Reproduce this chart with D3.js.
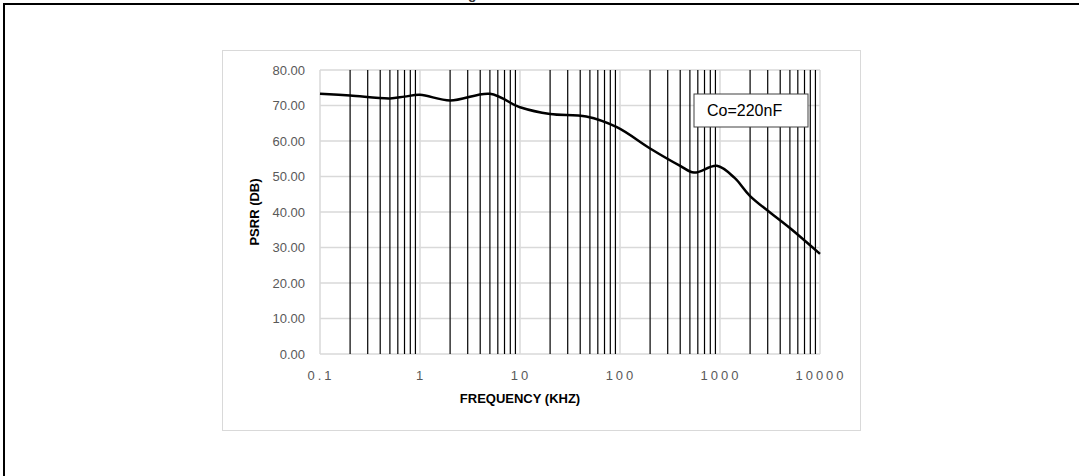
<!DOCTYPE html>
<html>
<head>
<meta charset="utf-8">
<script src="https://cdn.jsdelivr.net/npm/d3@7"></script>
<style>
  body { margin: 0; background: #fff; }
  svg { display: block; font-family: "Liberation Sans", Arial, sans-serif; }
</style>
</head>
<body>
<div id="chart"></div>
<script>
// curve (frequency in kHz, PSRR in dB)
let freq = [0.1, 0.2, 0.5, 0.7, 1, 2, 5, 8.9, 10, 20, 46, 93, 200, 400, 550, 930, 1400, 2000, 5000, 10000];
let psrr = [73.3, 72.8, 72.0, 72.5, 73.0, 71.4, 73.3, 70.1, 69.5, 67.6, 66.9, 63.9, 57.9, 53.0, 51.1, 53.0, 49.6, 44.5, 35.5, 28.2];
let xTicks = [0.1, 1, 10, 100, 1000, 10000];
let yTicks = [0, 10, 20, 30, 40, 50, 60, 70, 80];
let legendLabel = "Co=220nF";

let W = 1079, H = 476;
let plot = {left: 320, right: 820, top: 70, bottom: 354};

let svg = d3.select("#chart").append("svg")
    .attr("width", W)
    .attr("height", H);

// outer frame (top and left only visible)
svg.append("path")
    .attr("d", "M4,476 V4 H1079")
    .attr("fill", "none")
    .attr("stroke", "#000")
    .attr("stroke-width", 2);

// title sits above the crop, only a descender peeks in
svg.append("text")
    .attr("x", 468).attr("y", -1)
    .attr("font-size", 14)
    .attr("font-weight", "bold")
    .attr("fill", "#333")
    .text("g");

// chart area box
svg.append("rect")
    .attr("x", 222.5).attr("y", 50.5)
    .attr("width", 638).attr("height", 380)
    .attr("fill", "#fff")
    .attr("stroke", "#d9d9d9");

let x = d3.scaleLog()
    .domain([0.1, 10000])
    .range([plot.left, plot.right]);
let y = d3.scaleLinear()
    .domain([0, 80])
    .range([plot.bottom, plot.top]);

// horizontal gridlines
svg.append("g").selectAll("line")
    .data(yTicks)
    .enter().append("line")
    .attr("x1", plot.left).attr("x2", plot.right)
    .attr("y1", d => y(d)).attr("y2", d => y(d))
    .attr("stroke", "#d9d9d9")
    .attr("stroke-width", 1.5);

// major vertical gridlines (decades)
svg.append("g").selectAll("line")
    .data(xTicks)
    .enter().append("line")
    .attr("x1", d => x(d)).attr("x2", d => x(d))
    .attr("y1", y(0)).attr("y2", y(80))
    .attr("stroke", "#d9d9d9")
    .attr("stroke-width", 1.5);

// minor vertical lines 2..9 in each decade, drawn black
let minor = [];
xTicks.slice(0, -1).forEach(function(d) {
    for (let k = 2; k <= 9; k++) minor.push(d * k);
});
svg.append("g").selectAll("line")
    .data(minor)
    .enter().append("line")
    .attr("x1", d => x(d)).attr("x2", d => x(d))
    .attr("y1", y(0)).attr("y2", y(80))
    .attr("stroke", "#000")
    .attr("stroke-width", 1.2);

// y tick labels
svg.append("g").selectAll("text")
    .data(yTicks)
    .enter().append("text")
    .attr("x", 305)
    .attr("y", d => y(d))
    .attr("dy", "0.35em")
    .attr("text-anchor", "end")
    .attr("font-size", 13)
    .attr("fill", "#595959")
    .text(d => d.toFixed(2));

// x tick labels
svg.append("g").selectAll("text")
    .data(xTicks)
    .enter().append("text")
    .attr("x", d => x(d) + 1)
    .attr("y", 375)
    .attr("dy", "0.35em")
    .attr("text-anchor", "middle")
    .attr("font-size", 13)
    .attr("letter-spacing", "3px")
    .attr("fill", "#595959")
    .text(d => String(d));

// axis titles
svg.append("text")
    .attr("transform", "translate(259," + (plot.top + plot.bottom) / 2 + ") rotate(-90)")
    .attr("text-anchor", "middle")
    .attr("font-size", 13)
    .attr("font-weight", "bold")
    .attr("fill", "#000")
    .text("PSRR (DB)");

svg.append("text")
    .attr("x", 520).attr("y", 403)
    .attr("text-anchor", "middle")
    .attr("font-size", 13)
    .attr("font-weight", "bold")
    .attr("fill", "#000")
    .text("FREQUENCY (KHZ)");

// the curve
let pts = freq.map((f, i) => [f, psrr[i]]);
svg.append("path")
    .datum(pts)
    .attr("fill", "none")
    .attr("stroke", "#000")
    .attr("stroke-width", 2.5)
    .attr("d", d3.line()
        .x(d => x(d[0]))
        .y(d => y(d[1]))
        .curve(d3.curveCatmullRom.alpha(0.5)));

// legend box
let lg = svg.append("g").attr("transform", "translate(694,94)");
lg.append("rect")
    .attr("width", 114).attr("height", 33)
    .attr("fill", "#fff")
    .attr("stroke", "#404040")
    .attr("stroke-width", 1);
lg.append("text")
    .attr("x", 13).attr("y", 22)
    .attr("font-size", 16)
    .attr("fill", "#000")
    .text(legendLabel);
</script>
</body>
</html>
